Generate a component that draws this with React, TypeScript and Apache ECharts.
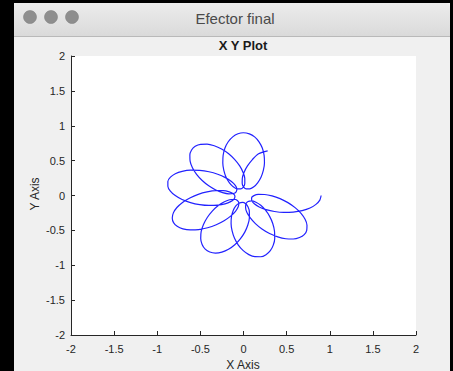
import React, { useEffect, useRef } from 'react';
import * as echarts from 'echarts';

// End-effector trajectory (data units), in drawing order
const xs = [
  0.900, 0.885, 0.840, 0.771, 0.680, 0.576, 0.466, 0.359, 0.262, 0.182, 0.125, 0.096,
  0.094, 0.121, 0.172, 0.245, 0.331, 0.424, 0.515, 0.598, 0.667, 0.714, 0.736, 0.733,
  0.704, 0.650, 0.577, 0.491, 0.397, 0.302, 0.214, 0.138, 0.079, 0.040, 0.024, 0.029,
  0.053, 0.093, 0.144, 0.200, 0.255, 0.303, 0.339, 0.359, 0.362, 0.345, 0.311, 0.261,
  0.200, 0.132, 0.062, -0.003, -0.060, -0.104, -0.132, -0.144, -0.139, -0.119, -0.089, -0.051,
  -0.011, 0.025, 0.053, 0.068, 0.068, 0.050, 0.015, -0.037, -0.101, -0.174, -0.251, -0.325,
  -0.391, -0.444, -0.480, -0.496, -0.491, -0.464, -0.420, -0.362, -0.296, -0.227, -0.162, -0.108,
  -0.071, -0.054, -0.061, -0.093, -0.149, -0.225, -0.316, -0.416, -0.520, -0.618, -0.703, -0.769,
  -0.811, -0.826, -0.813, -0.772, -0.707, -0.622, -0.525, -0.423, -0.324, -0.235, -0.165, -0.118,
  -0.099, -0.110, -0.149, -0.214, -0.301, -0.401, -0.508, -0.615, -0.712, -0.791, -0.848, -0.877,
  -0.877, -0.847, -0.791, -0.711, -0.615, -0.508, -0.400, -0.299, -0.210, -0.140, -0.095, -0.077,
  -0.085, -0.117, -0.171, -0.242, -0.321, -0.403, -0.479, -0.544, -0.592, -0.619, -0.622, -0.602,
  -0.560, -0.498, -0.423, -0.339, -0.254, -0.172, -0.101, -0.044, -0.005, 0.015, 0.015, -0.002,
  -0.033, -0.074, -0.119, -0.163, -0.202, -0.228, -0.240, -0.236, -0.215, -0.177, -0.125, -0.064,
  -0.002, 0.068, 0.129, 0.180, 0.218, 0.239, 0.243, 0.230, 0.203, 0.164, 0.120, 0.074,
  0.033, 0.002, -0.015, -0.014, 0.006, 0.046, 0.103, 0.175, 0.280,
];
const ys = [
  0.000, -0.066, -0.127, -0.179, -0.216, -0.237, -0.242, -0.229, -0.202, -0.164, -0.119, -0.074,
  -0.033, -0.002, 0.015, 0.014, -0.005, -0.045, -0.102, -0.174, -0.255, -0.341, -0.425, -0.500,
  -0.561, -0.603, -0.624, -0.620, -0.593, -0.545, -0.480, -0.403, -0.321, -0.242, -0.171, -0.118,
  -0.085, -0.077, -0.096, -0.141, -0.211, -0.299, -0.401, -0.509, -0.616, -0.712, -0.791, -0.848,
  -0.878, -0.877, -0.848, -0.791, -0.711, -0.614, -0.508, -0.401, -0.300, -0.214, -0.149, -0.110,
  -0.099, -0.118, -0.165, -0.235, -0.324, -0.423, -0.525, -0.622, -0.707, -0.772, -0.812, -0.825,
  -0.810, -0.768, -0.701, -0.616, -0.519, -0.416, -0.315, -0.224, -0.148, -0.093, -0.061, -0.054,
  -0.071, -0.108, -0.162, -0.226, -0.296, -0.362, -0.419, -0.463, -0.489, -0.494, -0.478, -0.442,
  -0.389, -0.323, -0.249, -0.172, -0.099, -0.035, 0.016, 0.051, 0.069, 0.069, 0.053, 0.025,
  -0.011, -0.051, -0.088, -0.119, -0.138, -0.143, -0.131, -0.102, -0.058, -0.001, 0.064, 0.134,
  0.202, 0.263, 0.313, 0.347, 0.363, 0.360, 0.340, 0.304, 0.256, 0.201, 0.144, 0.093,
  0.053, 0.029, 0.024, 0.041, 0.079, 0.139, 0.215, 0.303, 0.398, 0.492, 0.579, 0.652,
  0.705, 0.734, 0.737, 0.714, 0.667, 0.599, 0.515, 0.424, 0.331, 0.245, 0.172, 0.121,
  0.094, 0.096, 0.126, 0.182, 0.262, 0.360, 0.467, 0.577, 0.681, 0.771, 0.841, 0.885,
  0.900, 0.884, 0.840, 0.770, 0.680, 0.575, 0.466, 0.359, 0.262, 0.182, 0.125, 0.096,
  0.094, 0.121, 0.173, 0.245, 0.331, 0.424, 0.515, 0.598, 0.640,
];

const axisMin = -2;
const axisMax = 2;
const tickStep = 0.5;

const windowTitle = 'Efector final';
const plotTitle = 'X Y Plot';
const xLabel = 'X Axis';
const yLabel = 'Y Axis';

const FONT = "'Liberation Sans', Arial, Helvetica, sans-serif";
const INK = '#262626';

function txt(text: string, x: number, y: number, size: number, extra: any = {}) {
  const { style: extraStyle, ...rest } = extra;
  return {
    type: 'text',
    x,
    y,
    silent: true,
    ...rest,
    style: {
      text,
      fontSize: size,
      fontFamily: FONT,
      fill: INK,
      align: 'center',
      verticalAlign: 'middle',
      textAlign: 'center',
      textVerticalAlign: 'middle',
      ...(extraStyle || {}),
    },
  };
}

export default function App() {
  const ref = useRef<HTMLDivElement>(null);

  useEffect(() => {
    if (!ref.current) return;
    const chart = echarts.init(ref.current, null, { renderer: 'svg' });
    const data = xs.map((x, i) => [x, ys[i]]);

    const axisCommon = {
      type: 'value',
      min: axisMin,
      max: axisMax,
      interval: tickStep,
      splitLine: { show: false },
      axisLine: { show: true, onZero: false, lineStyle: { color: INK, width: 1 } },
      axisTick: { show: true, inside: true, length: 4, lineStyle: { color: INK, width: 1 } },
    };

    chart.setOption({
      animation: false,
      grid: {
        show: true,
        left: 71,
        top: 56,
        width: 345,
        height: 279,
        backgroundColor: '#ffffff',
        borderWidth: 0,
        borderColor: 'transparent',
      },
      xAxis: {
        ...axisCommon,
        axisLabel: { color: INK, fontSize: 11, fontFamily: FONT, margin: 8 },
      },
      yAxis: {
        ...axisCommon,
        axisLabel: { color: INK, fontSize: 11, fontFamily: FONT, margin: 6 },
      },
      series: [
        {
          type: 'line',
          data,
          showSymbol: false,
          smooth: 0.3,
          lineStyle: { color: '#2222ff', width: 1.2 },
          silent: true,
        },
      ],
      graphic: [
        // window frame
        { type: 'rect', shape: { x: 0, y: 0, width: 14, height: 371 }, style: { fill: '#000000' }, silent: true },
        { type: 'rect', shape: { x: 0, y: 0, width: 453, height: 3 }, style: { fill: '#000000' }, silent: true },
        { type: 'rect', shape: { x: 450, y: 0, width: 3, height: 371 }, style: { fill: '#000000' }, silent: true },
        {
          type: 'rect',
          shape: { x: 14, y: 3, width: 436, height: 33, r: [5, 5, 0, 0] },
          style: {
            fill: new echarts.graphic.LinearGradient(0, 0, 0, 1, [
              { offset: 0, color: '#ececec' },
              { offset: 1, color: '#dadada' },
            ]),
          },
          silent: true,
        },
        { type: 'line', shape: { x1: 14, y1: 36.5, x2: 450, y2: 36.5 }, style: { stroke: '#b9b9b9', lineWidth: 1 }, silent: true },
        { type: 'circle', shape: { cx: 30, cy: 17, r: 6.5 }, style: { fill: '#8e8e8e', stroke: '#7c7c7c', lineWidth: 0.5 }, silent: true },
        { type: 'circle', shape: { cx: 51, cy: 17, r: 6.5 }, style: { fill: '#8e8e8e', stroke: '#7c7c7c', lineWidth: 0.5 }, silent: true },
        { type: 'circle', shape: { cx: 72, cy: 17, r: 6.5 }, style: { fill: '#8e8e8e', stroke: '#7c7c7c', lineWidth: 0.5 }, silent: true },
        txt(windowTitle, 235, 18, 15, { style: { fill: '#4a4a4a' } }),
        // plot texts
        txt(plotTitle, 243, 45, 13, { style: { fontWeight: 'bold', fill: '#1a1a1a' } }),
        txt(xLabel, 243, 365, 12),
        txt(yLabel, 35, 194, 12, { rotation: Math.PI / 2 }),
      ],
    });

    return () => chart.dispose();
  }, []);

  return (
    <div
      ref={ref}
      style={{
        position: 'fixed',
        left: 0,
        top: 0,
        width: 453,
        height: 371,
        background: '#f0f0f0',
      }}
    />
  );
}
